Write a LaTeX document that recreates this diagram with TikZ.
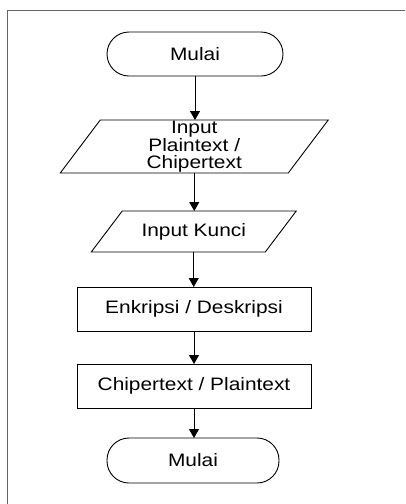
\documentclass[tikz,border=0pt]{standalone}
\usepackage{fontspec}
\setmainfont{Liberation Sans}[FakeStretch=1.16]
\usetikzlibrary{arrows.meta}

\tikzset{
  every node/.style={inner sep=0pt, outer sep=0pt, align=center,
    font=\fontsize{18}{16.7}\selectfont},
  terminal/.style={draw, line width=0.9pt, rounded corners=22pt},
  procbox/.style={draw, line width=0.9pt},
  iotext/.style={},
  ioshape/.style={draw, line width=0.9pt},
  flow/.style={line width=0.9pt, -{Triangle[width=10pt,length=9pt]}},
  frameline/.style={draw=black!60, line width=1.6pt}
}

\begin{document}
\begin{tikzpicture}[x=1pt, y=-1pt]
  \useasboundingbox (0,0) rectangle (405,504);

  % page frame (top and left edges)
  \draw[frameline] (405,10.5) -- (7.5,10.5) -- (7.5,504);

  % nodes
  \node[terminal, minimum width=176pt, minimum height=44pt] (start) at (195,54) {Mulai};
  \node[iotext, minimum width=228pt, minimum height=53pt] (inText) at (194.25,146.5)
    {Input\\Plaintext /\\Chipertext};
  \node[iotext, minimum width=174pt, minimum height=41pt] (inKey) at (193.75,231.5) {Input Kunci};
  \node[procbox, minimum width=234pt, minimum height=44pt] (proc) at (194,309) {Enkripsi / Deskripsi};
  \node[procbox, minimum width=234pt, minimum height=44pt] (out) at (194,386) {Chipertext / Plaintext};
  \node[terminal, minimum width=172pt, minimum height=45pt] (stop) at (193,460.5) {Mulai};

  % parallelogram outlines around the input nodes
  \draw[ioshape] ([xshift=20pt]inText.north west) -- ([xshift=20pt]inText.north east)
    -- ([xshift=-20pt]inText.south east) -- ([xshift=-20pt]inText.south west) -- cycle;
  \draw[ioshape] ([xshift=15.5pt]inKey.north west) -- ([xshift=15.5pt]inKey.north east)
    -- ([xshift=-15.5pt]inKey.south east) -- ([xshift=-15.5pt]inKey.south west) -- cycle;

  % connectors
  \draw[flow] (start.south) -- (start.south |- inText.north);
  \draw[flow] (inText.south) -- (inText.south |- inKey.north);
  \draw[flow] (inKey.south) -- (inKey.south |- proc.north);
  \draw[flow] (proc.south) -- (out.north);
  \draw[flow] (out.south) -- (out.south |- stop.north);
\end{tikzpicture}
\end{document}
